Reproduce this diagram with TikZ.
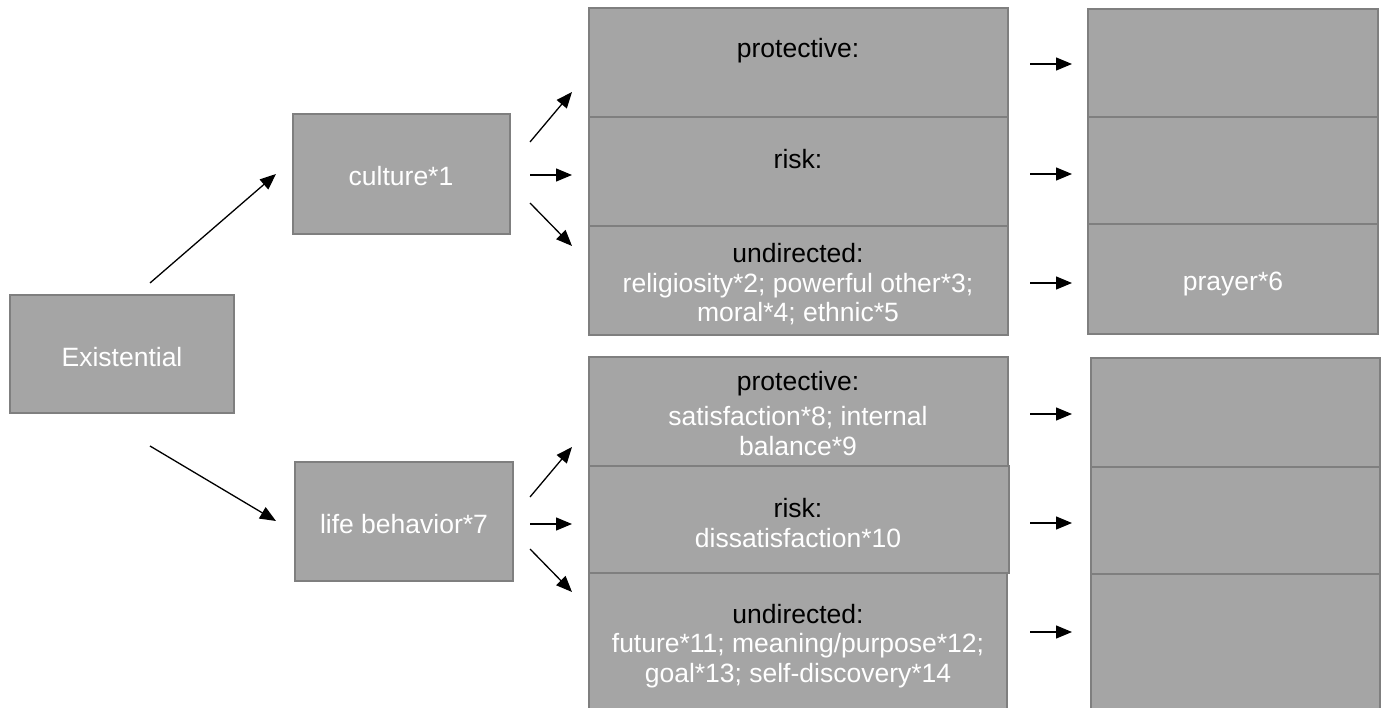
\documentclass[tikz,border=0pt]{standalone}
\usepackage{fontspec}
\setmainfont{Liberation Sans}
\usetikzlibrary{arrows.meta}
\definecolor{boxfill}{RGB}{165,165,165}
\definecolor{boxline}{RGB}{127,127,127}
\begin{document}
\begin{tikzpicture}[x=1pt,y=-1pt,
  box/.style={draw=boxline,fill=boxfill,line width=2pt,inner sep=0pt,outer sep=0pt,anchor=north west},
  wtxt/.style={text=white,font=\fontsize{26.5}{29.8}\selectfont,align=center,inner sep=0pt},
  btxt/.style={text=black,font=\fontsize{26.5}{29.8}\selectfont,align=center,inner sep=0pt},
  arr/.style={line width=1.3pt,-{Triangle[length=16pt,width=13pt]}}]
\useasboundingbox (0,0) rectangle (1386,708);
\clip (0,0) rectangle (1386,708);
% left boxes
\node[box,minimum width=224pt,minimum height=118pt] (ex) at (10,295) {};
\node[box,minimum width=217pt,minimum height=120pt] (cul) at (293,114) {};
\node[box,minimum width=218pt,minimum height=119pt] (life) at (295,462) {};
% top middle
\node[box,minimum width=419pt,minimum height=109pt] (p1) at (589,8) {};
\node[box,minimum width=419pt,minimum height=109pt] (r1) at (589,117) {};
\node[box,minimum width=419pt,minimum height=109pt] (u1) at (589,226) {};
% top right
\node[box,minimum width=290pt,minimum height=108pt] (a1) at (1088,9) {};
\node[box,minimum width=290pt,minimum height=107pt] (b1) at (1088,117) {};
\node[box,minimum width=290pt,minimum height=110pt] (c1) at (1088,224) {};
% lower middle
\node[box,minimum width=419pt,minimum height=109pt] (p2) at (589,357) {};
\node[box,minimum width=420pt,minimum height=107pt] (r2) at (589,466) {};
\node[box,minimum width=418pt,minimum height=139pt] (u2) at (589,573) {};
% lower right
\node[box,minimum width=289pt,minimum height=109pt] (a2) at (1091,358) {};
\node[box,minimum width=289pt,minimum height=107pt] (b2) at (1091,467) {};
\node[box,minimum width=289pt,minimum height=138pt] (c2) at (1091,574) {};
% texts
\node[wtxt] (tex) at (122,357) {Existential};
\node[wtxt] (tcul) at (401,176) {culture*1};
\node[wtxt] (tlife) at (404,524) {life behavior*7};
\node[btxt] (tp1) at (798,51) {protective:};
\node[btxt] (tr1) at (798,159) {risk:};
\node[btxt] (tu1) at (798,253) {undirected:};
\node[wtxt] (tu1b) at (798,299) {religiosity*2; powerful other*3;\\moral*4; ethnic*5};
\node[wtxt] (tc1) at (1233,284) {prayer*6};
\node[btxt] (tp2) at (798,384) {protective:};
\node[wtxt] (tp2b) at (798,431) {satisfaction*8; internal\\balance*9};
\node[btxt] (tr2) at (798,508) {risk:};
\node[wtxt] (tr2b) at (798,538) {dissatisfaction*10};
\node[btxt] (tu2) at (798,614) {undirected:};
\node[wtxt] (tu2b) at (798,661) {future*11; meaning/purpose*12;\\goal*13; self-discovery*14};
% arrow endpoints
\coordinate (e1s) at (150,283); \coordinate (e1e) at (276,174);
\coordinate (e2s) at (150,446); \coordinate (e2e) at (276,521);
\coordinate (cus) at (530,142); \coordinate (cue) at (572,92);
\coordinate (cms) at (530,175); \coordinate (cme) at (572,175);
\coordinate (cds) at (530,203); \coordinate (cde) at (572,246);
\coordinate (lus) at (530,497); \coordinate (lue) at (572,447);
\coordinate (lms) at (530,524); \coordinate (lme) at (572,524);
\coordinate (lds) at (530,549); \coordinate (lde) at (572,592);
\draw[arr] (e1s) -- (e1e);
\draw[arr] (e2s) -- (e2e);
\draw[arr] (cus) -- (cue);
\draw[arr] (cms) -- (cme);
\draw[arr] (cds) -- (cde);
\draw[arr] (lus) -- (lue);
\draw[arr] (lms) -- (lme);
\draw[arr] (lds) -- (lde);
\foreach \y/\n in {64/1,174/2,283/3,414/4,523/5,632/6}{
  \coordinate (rs\n) at (1030,\y);
  \coordinate (re\n) at (1072,\y);
  \draw[arr] (rs\n) -- (re\n);
}
\end{tikzpicture}
\end{document}
